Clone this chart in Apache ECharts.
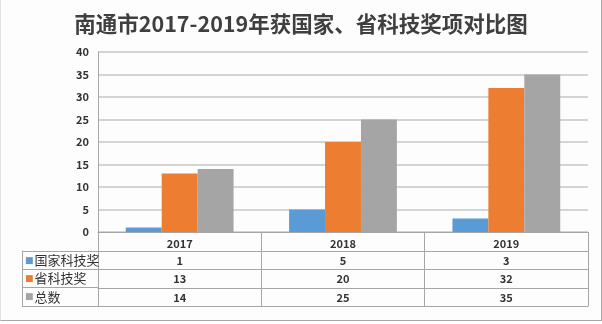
<!DOCTYPE html>
<html><head><meta charset="utf-8">
<script src="https://cdn.jsdelivr.net/npm/echarts@6/dist/echarts.min.js"></script>
<style>
html,body{margin:0;padding:0;background:#fff;}
#c{position:absolute;left:0;top:0;width:600px;height:320px;border-right:1px solid #a8a8a8;border-bottom:1px solid #a8a8a8;border-left:1px solid #e4e4e4;background:#fdfdfd;}
</style></head>
<body><div id="c"></div>
<script>
var titleText = '南通市2017-2019年获国家、省科技奖项对比图';
var years = ['2017', '2018', '2019'];
var seriesNames = ['国家科技奖', '省科技奖', '总数'];
var national = [1, 5, 3];
var provincial = [13, 20, 32];
var total = [14, 25, 35];
var colors = ['#5b9bd5', '#ed7d31', '#a5a5a5'];
var values = [national, provincial, total];

var chart = echarts.init(document.getElementById('c'), null, {renderer: 'canvas'});
var lineColor = '#a6a6a6';
var font = '"Noto Sans CJK SC", "Noto Sans", sans-serif';
var gridTop = 52, gridH = 180, gridLeft = 97, gridRight = 13;
var rowOffsets = [19, 37, 56];

var xAxes = [{
  type: 'category', data: years, gridIndex: 0, position: 'bottom',
  axisLine: {show: true, lineStyle: {color: lineColor, width: 1}},
  axisTick: {show: true, length: 74, interval: 0, lineStyle: {color: lineColor}},
  axisLabel: {margin: 6, fontSize: 11, fontWeight: 'bold', color: '#333', fontFamily: font}
}];
values.forEach(function (arr, i) {
  xAxes.push({
    type: 'category', data: arr.map(String), gridIndex: 0, position: 'bottom', offset: rowOffsets[i],
    axisLine: {show: true, lineStyle: {color: lineColor, width: 1}},
    axisTick: {show: false},
    axisLabel: {margin: 4, fontSize: 11, fontWeight: 'bold', color: '#333', fontFamily: font}
  });
});
xAxes.push({
  type: 'category', data: years, gridIndex: 0, position: 'bottom', offset: 74,
  axisLine: {show: true, lineStyle: {color: lineColor, width: 1}},
  axisTick: {show: false}, axisLabel: {show: false}
});
// left table column grid
xAxes.push({type: 'value', gridIndex: 1, show: false, min: 0, max: 1});

var rich = {t: {fontSize: 13, color: '#333', fontFamily: font, padding: [0, 0, 0, 1]}};
colors.forEach(function (c, i) { rich['s' + i] = {fontSize: 9, color: c, fontFamily: 'DejaVu Sans'}; });

var option = {
  backgroundColor: '#fdfdfd',
  color: colors,
  animation: false,
  title: {
    text: titleText, left: 'center', top: 8,
    textStyle: {fontSize: 21.5, fontWeight: 'bold', color: '#3f3f3f', fontFamily: font}
  },
  grid: [
    {left: gridLeft, right: gridRight, top: gridTop, height: gridH, containLabel: false},
    {left: 21, width: 76, top: 251, height: 55}
  ],
  xAxis: xAxes,
  yAxis: [{
    type: 'value', gridIndex: 0, min: 0, max: 40, interval: 5,
    axisLine: {show: true, lineStyle: {color: lineColor}},
    axisTick: {show: false},
    splitLine: {lineStyle: {color: '#c6c6c6', width: 1.5}},
    axisLabel: {margin: 9, fontSize: 11, color: '#333', fontWeight: 'bold', fontFamily: font}
  }, {
    type: 'category', gridIndex: 1, inverse: true, data: seriesNames,
    axisLine: {show: true, lineStyle: {color: lineColor}},
    axisTick: {show: false},
    splitLine: {show: true, lineStyle: {color: lineColor}},
    axisLabel: {
      inside: true, margin: 3,
      formatter: function (v, i) { return '{s' + i + '|■}{t|' + v + '}'; },
      rich: rich
    }
  }],
  series: values.map(function (arr, i) {
    return {
      name: seriesNames[i], type: 'bar', data: arr, xAxisIndex: 0, yAxisIndex: 0,
      barGap: '0%', barCategoryGap: '34%', itemStyle: {color: colors[i]}
    };
  })
};
chart.setOption(option);
</script>
</body></html>
